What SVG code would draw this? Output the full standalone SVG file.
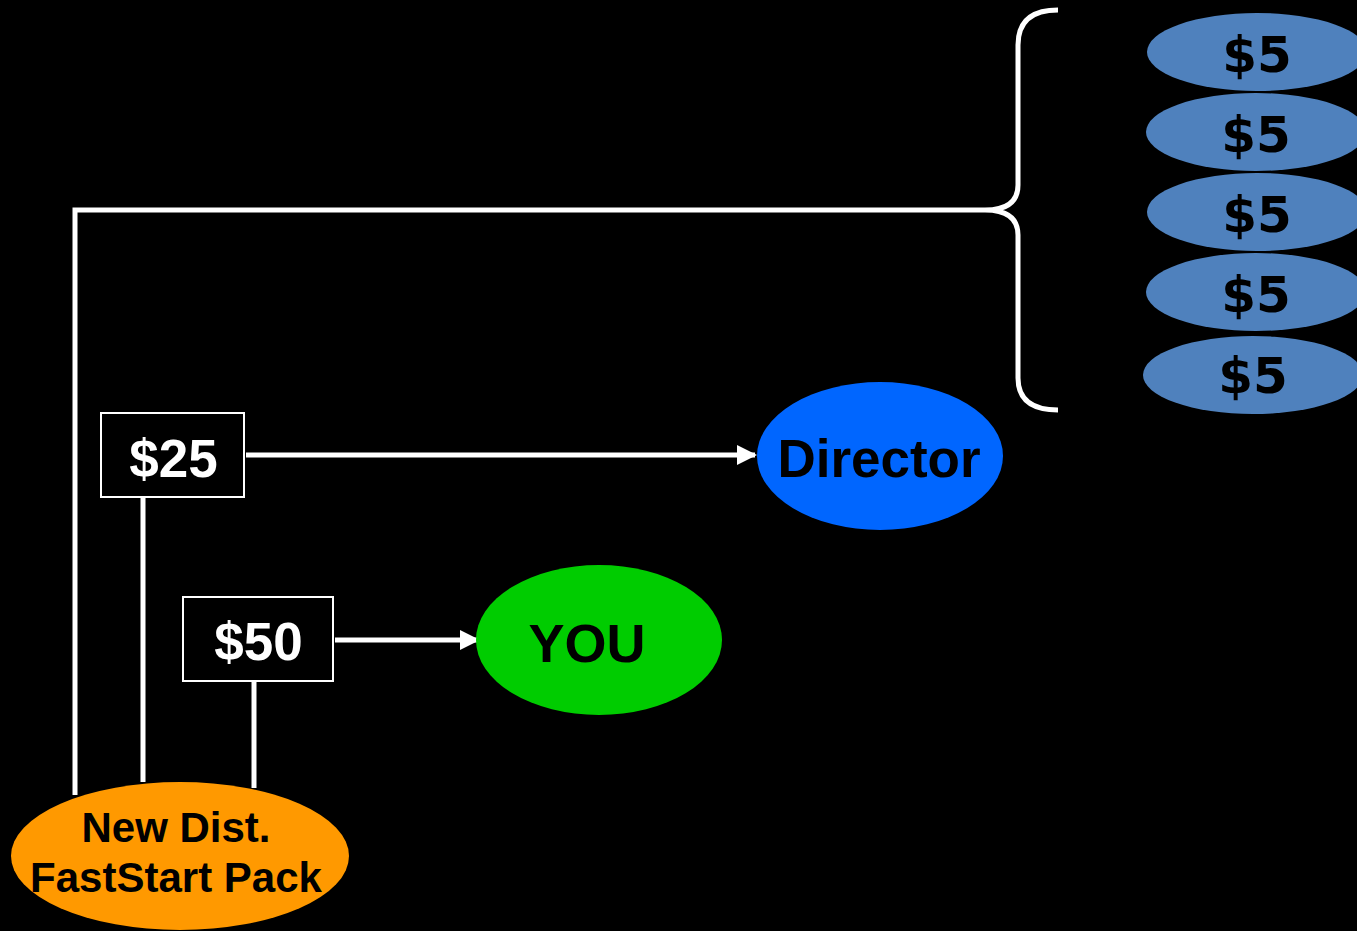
<svg xmlns="http://www.w3.org/2000/svg" width="1357" height="931" viewBox="0 0 1357 931">
<defs>
<style>
.ln{stroke:#fff;stroke-width:5;fill:none}
.box{fill:#000;stroke:#fff;stroke-width:2}
.bt{font-family:"Liberation Sans",Arial,sans-serif;font-weight:bold;fill:#fff;text-anchor:middle}
.et{font-family:"Liberation Sans",Arial,sans-serif;font-weight:bold;fill:#000;text-anchor:middle}
.five{fill:#4f81bd}
.ft{font-family:"DejaVu Sans",Verdana,sans-serif;font-weight:bold;fill:#000;text-anchor:middle;font-size:50px}
</style>
<marker id="ah" viewBox="0 0 10 10" refX="9" refY="5" markerWidth="4" markerHeight="4" orient="auto" markerUnits="strokeWidth">
<path d="M0,0 L10,5 L0,10 z" fill="#fff"/>
</marker>
</defs>
<rect width="1357" height="931" fill="#000"/>
<g id="connectors">
<path class="ln" d="M75,795 L75,210 L985,210"/>
<path class="ln" d="M1058,10 Q1018,10 1018,45 L1018,185 Q1018,210 985,210 Q1018,210 1018,235 L1018,378 Q1018,410 1058,410"/>
<line class="ln" x1="246" y1="455" x2="755" y2="455" marker-end="url(#ah)"/>
<line class="ln" x1="143" y1="498" x2="143" y2="782"/>
<line class="ln" x1="335" y1="640" x2="478" y2="640" marker-end="url(#ah)"/>
<line class="ln" x1="254" y1="682" x2="254" y2="788"/>
</g>
<g id="five1"><ellipse class="five" cx="1257" cy="52" rx="110" ry="39"/><text class="ft" x="1257" y="72">$5</text></g>
<g id="five2"><ellipse class="five" cx="1256" cy="132" rx="110" ry="39"/><text class="ft" x="1256" y="152">$5</text></g>
<g id="five3"><ellipse class="five" cx="1257" cy="212" rx="110" ry="39"/><text class="ft" x="1257" y="232">$5</text></g>
<g id="five4"><ellipse class="five" cx="1256" cy="292" rx="110" ry="39"/><text class="ft" x="1256" y="312">$5</text></g>
<g id="five5"><ellipse class="five" cx="1253" cy="375" rx="110" ry="39"/><text class="ft" x="1253" y="393">$5</text></g>
<g id="box25"><rect class="box" x="101" y="413" width="143" height="84"/><text class="bt" x="173.5" y="477" font-size="53">$25</text></g>
<g id="box50"><rect class="box" x="183" y="597" width="150" height="84"/><text class="bt" x="258.5" y="660" font-size="53">$50</text></g>
<g id="director"><ellipse cx="880" cy="456" rx="123" ry="74" fill="#0066ff"/><text class="et" x="879" y="477" font-size="53">Director</text></g>
<g id="you"><ellipse cx="599" cy="640" rx="123" ry="75" fill="#00cc00"/><text class="et" x="587" y="662" font-size="54">YOU</text></g>
<g id="newdist"><ellipse cx="180" cy="856" rx="169" ry="74" fill="#ff9900"/><text class="et" x="176" y="842" font-size="42">New Dist.</text><text class="et" x="176" y="892" font-size="42">FastStart Pack</text></g>
</svg>
